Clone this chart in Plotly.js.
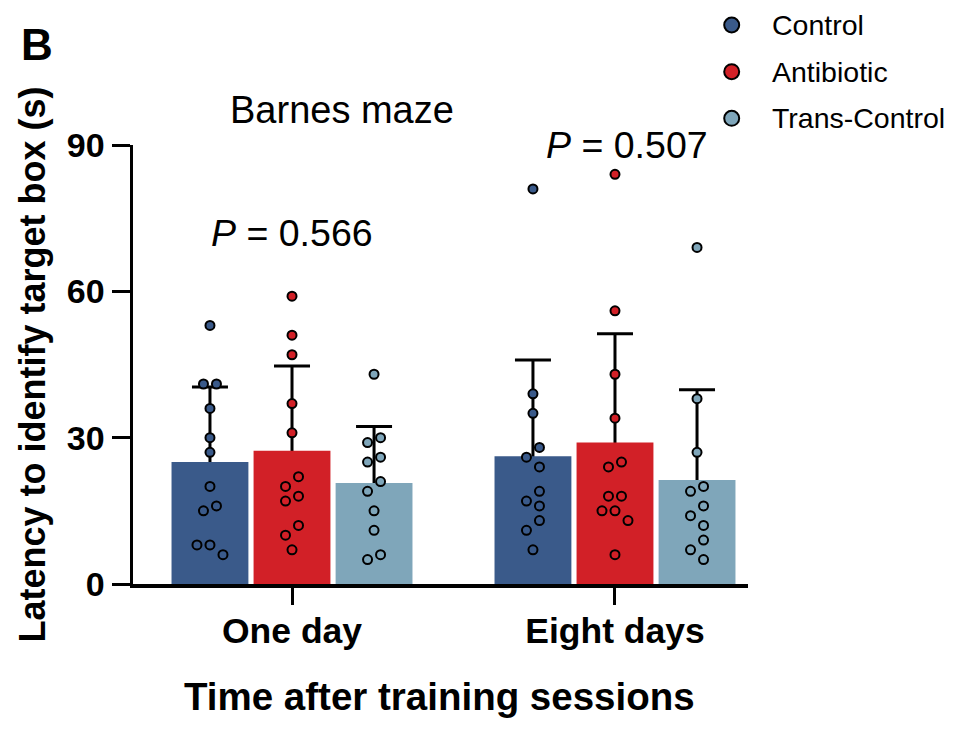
<!DOCTYPE html>
<html>
<head>
<meta charset="utf-8">
<script src="https://cdn.plot.ly/plotly-3.0.1.min.js"></script>
<style>
  html, body { margin: 0; padding: 0; background: #ffffff; }
  #chart { width: 963px; height: 730px; }
</style>
</head>
<body>
<div id="chart"></div>
<script>
// Barnes maze: latency to identify the target box, per group and time point
const groups = ['One day', 'Eight days'];
const seriesNames = ['Control', 'Antibiotic', 'Trans-Control'];
const seriesColors = ['#3a5a8a', '#d22027', '#7fa6ba'];

// individual animals (s)
const controlOneDay = [53, 41, 41, 36, 30, 27, 20, 16, 15, 8, 8, 6];
const controlEightDays = [81, 39, 35, 28, 26, 24, 19, 17, 16, 13, 11, 7];
const antibioticOneDay = [59, 51, 47, 37, 31, 22, 20, 18, 17, 12, 10, 7];
const antibioticEightDays = [84, 56, 43, 34, 25, 24, 18, 18, 15, 15, 13, 6];
const transOneDay = [43, 30, 29, 26, 25, 21, 19, 15, 11, 6, 5];
const transEightDays = [69, 38, 27, 20, 19, 16, 14, 12, 9, 7, 5];

// group means and SD (s), per time point
const controlMean = [25.0, 26.2];
const antibioticMean = [27.3, 29.0];
const transMean = [20.7, 21.3];
const controlSD = [15.4, 19.7];
const antibioticSD = [17.4, 22.3];
const transSD = [11.6, 18.5];

// one-way comparison at each time point
const pValues = ['0.566', '0.507'];

const yTicks = [0, 30, 60, 90];

const points = [
  [controlOneDay, controlEightDays],
  [antibioticOneDay, antibioticEightDays],
  [transOneDay, transEightDays]
];
const means = [controlMean, antibioticMean, transMean];
const sds = [controlSD, antibioticSD, transSD];

// ---- geometry ----
const W = 963, H = 730;
const M = { l: 133, r: 215, t: 145, b: 146 };
const plotW = W - M.l - M.r, plotH = H - M.t - M.b;
const xRange = [-0.4923, 1.4118];
const yRange = [0, 90];
const pxPerX = plotW / (xRange[1] - xRange[0]);
const pxPerY = plotH / (yRange[1] - yRange[0]);
const barOffset = [-0.254, 0, 0.254];
const barWidth = 0.238;

const FONT = 'Liberation Sans, Arial, Helvetica, sans-serif';

// simple beeswarm: keeps dots from overlapping, spreads ties sideways
function swarm(vals, dotD, step) {
  const order = vals.map((v, i) => i).sort((a, b) => vals[b] - vals[a]);
  const placed = [];
  const off = new Array(vals.length).fill(0);
  order.forEach(i => {
    const y = vals[i] * pxPerY;
    const cands = [0];
    for (let m = 1; m < 12; m++) { cands.push(-m * step, m * step); }
    for (const c of cands) {
      const ok = placed.every(p => Math.hypot(c - p.x, y - p.y) >= dotD - 0.01);
      if (ok) { off[i] = c; placed.push({ x: c, y: y }); break; }
    }
  });
  // centre each vertical cluster on the bar
  let chain = [];
  const flush = () => {
    if (!chain.length) return;
    const xs = chain.map(i => off[i]);
    const mid = (Math.min(...xs) + Math.max(...xs)) / 2;
    chain.forEach(i => { off[i] -= mid; });
    chain = [];
  };
  order.forEach((i, k) => {
    if (k > 0 && (vals[order[k - 1]] - vals[i]) * pxPerY >= dotD) flush();
    chain.push(i);
  });
  flush();
  return off;
}

const traces = [];

// SD whiskers: drawn first, so the solid bars hide their lower half
seriesNames.forEach((name, s) => {
  traces.push({
    type: 'bar',
    name: name + ' SD',
    x: groups.map((g, gi) => gi + barOffset[s]),
    y: means[s],
    width: groups.map(() => barWidth),
    marker: { color: 'rgba(0,0,0,0)', line: { width: 0 } },
    error_y: {
      type: 'data', symmetric: true, array: sds[s],
      color: '#000000', thickness: 3, width: 18
    },
    showlegend: false,
    hoverinfo: 'skip'
  });
});

// mean bars
seriesNames.forEach((name, s) => {
  traces.push({
    type: 'bar',
    name: name,
    x: groups.map((g, gi) => gi + barOffset[s]),
    y: means[s],
    width: groups.map(() => barWidth),
    marker: { color: seriesColors[s], line: { width: 0 } },
    showlegend: false,
    hoverinfo: 'skip'
  });
});

// individual animals
seriesNames.forEach((name, s) => {
  const xs = [], ys = [];
  groups.forEach((g, gi) => {
    const vals = points[s][gi];
    const off = swarm(vals, 13, 6.5);
    vals.forEach((v, k) => {
      xs.push(gi + barOffset[s] + off[k] / pxPerX);
      ys.push(v);
    });
  });
  traces.push({
    type: 'scatter', mode: 'markers', name: name,
    x: xs, y: ys,
    marker: { size: 9, color: seriesColors[s], line: { color: '#000000', width: 2 } },
    cliponaxis: false,
    showlegend: false,
    hoverinfo: 'skip'
  });
});

// pixel -> paper helpers for free-standing text
const px = v => (v - M.l) / plotW;
const py = v => (H - M.b - v) / plotH;

const annotations = [
  { text: '<b>B</b>', x: px(19), y: py(44.5), xanchor: 'left', yanchor: 'middle',
    font: { family: FONT, size: 44, color: '#000' } },
  { text: 'Barnes maze', x: px(342), y: py(110), xanchor: 'center', yanchor: 'middle',
    font: { family: FONT, size: 38, color: '#000' } },
  { text: '<i>P</i> = ' + pValues[0], x: px(291.7), y: py(233), xanchor: 'center', yanchor: 'middle',
    font: { family: FONT, size: 37.5, color: '#000' } },
  { text: '<i>P</i> = ' + pValues[1], x: px(627), y: py(145), xanchor: 'center', yanchor: 'middle',
    font: { family: FONT, size: 37.5, color: '#000' } },
  { text: '<b>Time after training sessions</b>', x: px(439), y: py(696), xanchor: 'center', yanchor: 'middle',
    font: { family: FONT, size: 38.5, color: '#000' } },
  { text: '<b>Latency to identify target box (s)</b>', x: px(31.5), y: py(365), xanchor: 'center', yanchor: 'middle',
    textangle: -90, font: { family: FONT, size: 36, color: '#000' } }
];

// legend: filled circle + label per series
const shapes = [];
const legendY = [25, 71.7, 118.3];
seriesNames.forEach((name, s) => {
  shapes.push({
    type: 'circle', xref: 'paper', yref: 'paper',
    xsizemode: 'pixel', ysizemode: 'pixel',
    xanchor: px(731.7), yanchor: py(legendY[s]),
    x0: -7.5, x1: 7.5, y0: -7.5, y1: 7.5,
    fillcolor: seriesColors[s], line: { color: '#000000', width: 2 }
  });
  annotations.push({
    text: name, x: px(770), y: py(legendY[s]), xanchor: 'left', yanchor: 'middle',
    font: { family: FONT, size: 28.5, color: '#000' }
  });
});
annotations.forEach(a => { a.xref = 'paper'; a.yref = 'paper'; a.showarrow = false; });

const layout = {
  width: W, height: H,
  margin: { l: M.l, r: M.r, t: M.t, b: M.b, pad: 0 },
  paper_bgcolor: '#ffffff', plot_bgcolor: '#ffffff',
  barmode: 'overlay',
  showlegend: false,
  font: { family: FONT, color: '#000' },
  xaxis: {
    range: xRange, tickvals: [0, 1], ticktext: groups,
    ticks: 'outside', ticklen: 17, tickwidth: 3, tickcolor: '#000',
    ticklabelstandoff: -4,
    showline: true, linewidth: 3.5, linecolor: '#000',
    showgrid: false, zeroline: false, fixedrange: true,
    tickfont: { family: FONT, size: 35.5, color: '#000', weight: 'bold' }
  },
  yaxis: {
    range: yRange, tickvals: yTicks,
    ticks: 'outside', ticklen: 18, tickwidth: 3, tickcolor: '#000',
    showline: true, linewidth: 3.5, linecolor: '#000',
    showgrid: false, zeroline: false, fixedrange: true,
    tickfont: { family: FONT, size: 34, color: '#000', weight: 'bold' }
  },
  annotations: annotations,
  shapes: shapes
};

Plotly.newPlot('chart', traces, layout, { staticPlot: true, displayModeBar: false });
</script>
</body>
</html>
